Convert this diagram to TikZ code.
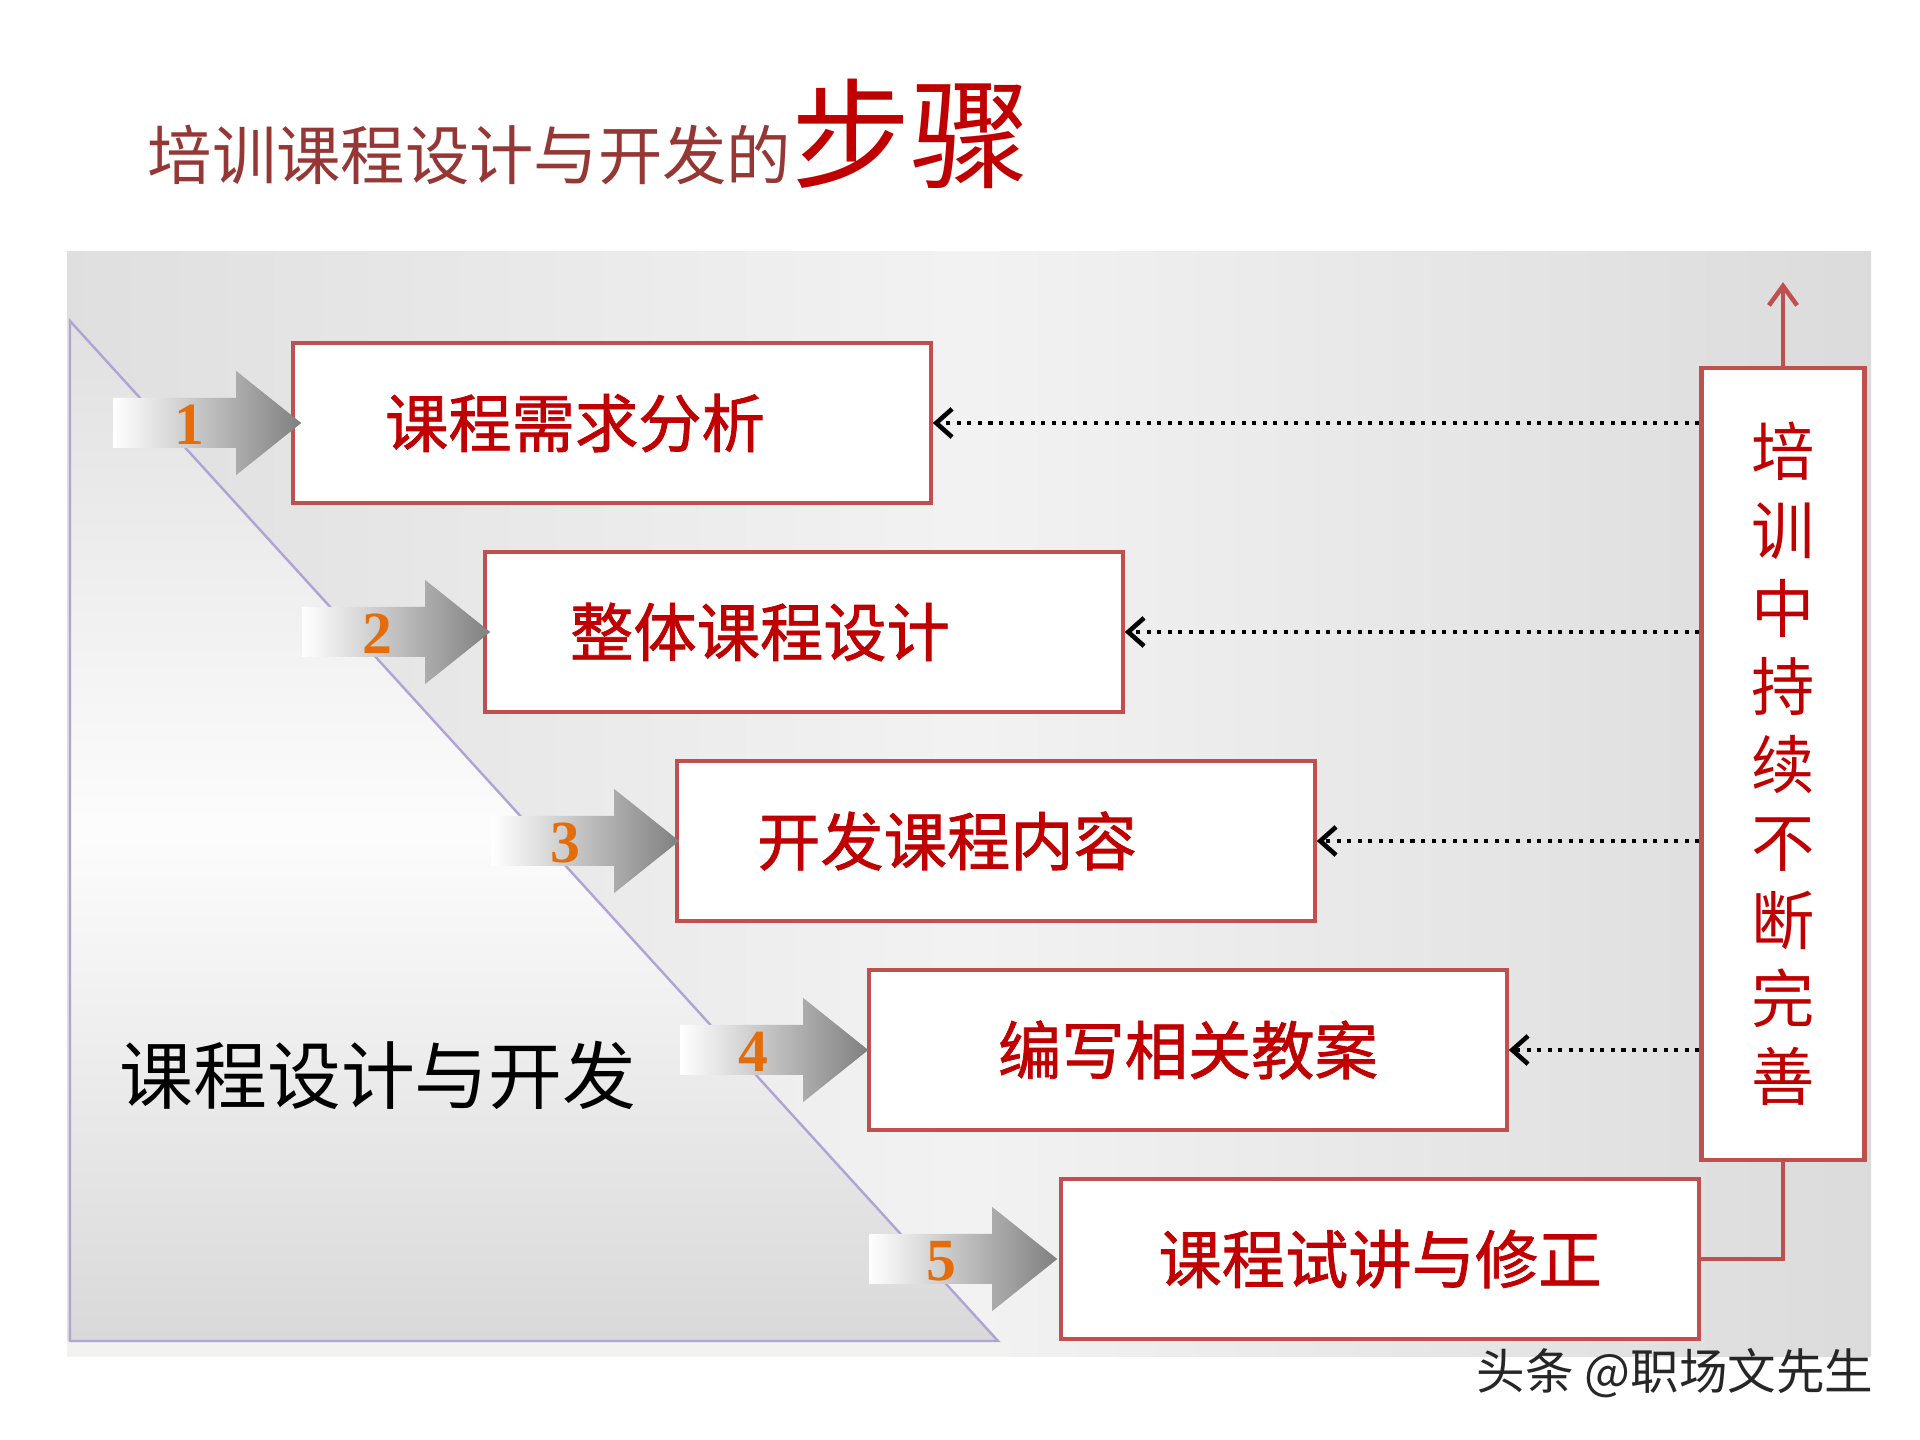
\documentclass[tikz,border=0pt]{standalone}
\usepackage{fontspec}
\setmainfont{Liberation Serif}
\newfontfamily\cjk{Noto Sans CJK SC}
\newfontfamily\cjkm[FakeBold=1.2]{Noto Sans CJK SC}
\usepackage{tikz}
\usetikzlibrary{calc, positioning, arrows.meta}

\definecolor{boxred}{HTML}{C0504D}
\definecolor{txtred}{HTML}{C00000}
\definecolor{titlered}{HTML}{953735}
\definecolor{numorange}{HTML}{E46C0A}
\definecolor{lav}{HTML}{B0A4D4}

\tikzset{
  stepbox/.style={draw=boxred, line width=1.2pt, fill=white, minimum width=6.37cm,
    minimum height=1.6cm, inner sep=0pt},
  steptext/.style={text=txtred, font=\cjkm\fontsize{18}{18}\selectfont},
  stepnum/.style={text=numorange, font=\bfseries\fontsize{17}{17}\selectfont},
  feedback/.style={line width=1.15pt, dash pattern=on 1.15pt off 1.85pt,
    -{Straight Barb[length=4.5pt, width=8pt, line width=1.3pt]}},
  redline/.style={boxred, line width=1.2pt},
}

\begin{document}
\begin{tikzpicture}[x=0.01cm, y=-0.01cm]
  \useasboundingbox (0,0) rectangle (1920,1440);

  % Title
  \node[anchor=base west, inner sep=0pt] (title) at (147,180)
    {\cjk\fontsize{18.3}{18}\selectfont\color{titlered}培训课程设计与开发的%
     \fontsize{34}{34}\selectfont\color{txtred}步骤};

  % Grey panel
  \shade[left color=gray!25, right color=gray!28, middle color=gray!10]
    (67,252) rectangle (1871,1357);

  % Left wedge
  \fill[yellow!4!gray!12] (67,1341) rectangle (1010,1357);
  \shade[top color=gray!24, bottom color=gray!30, middle color=gray!2]
    (70,321) -- (998,1341) -- (70,1341) -- cycle;
  \draw[lav, line width=0.7pt] (70,321) -- (998,1341) -- (70,1341) -- cycle;
  \node[font=\cjk\fontsize{21}{21}\selectfont] (sub) at (378,1075) {课程设计与开发};

  % Steps
  \foreach \i/\t/\dx in {1/课程需求分析/-37, 2/整体课程设计/-44, 3/开发课程内容/-49,
                         4/编写相关教案/0, 5/课程试讲与修正/0}
    {
      \pgfmathsetmacro\ax{-3*(\i-1)}
      \node[stepbox] (s\i) at ({612+192*(\i-1)}, {423+209*(\i-1)}) {};
      \node[steptext] at ($(s\i.center)+(\dx,0)$) {\t};
      \shade[left color=white, right color=gray]
        ($(s\i.west)+(-178+\ax,-25)$) -- ++(123,0) -- ++(0,-27)
        -- ($(s\i.west)+(10+\ax,0)$)
        -- ($(s\i.west)+(-55+\ax,52)$) -- ++(0,-27) -- ($(s\i.west)+(-178+\ax,25)$) -- cycle;
      \node[stepnum] (n\i) at ($(s\i.west)+(-102+1.3*\ax,2)$) {\i};
    }

  % Continuous improvement box
  \node[stepbox, minimum width=1.63cm, minimum height=7.91cm, text=txtred, align=center,
        font=\cjk\fontsize{18}{22.2}\selectfont] (keep) at (1783,764)
    {培\\训\\中\\持\\续\\不\\断\\完\\善};

  % Feedback lines
  \foreach \i in {1,...,4}
    \draw[feedback] (keep.west |- s\i.east) -- (s\i.east);

  \coordinate (top) at ($(keep.north)+(0,-84)$);
  \draw[redline, -{Straight Barb[length=5.5pt, width=8pt, line width=1.3pt]}] (keep.north) -- (top);
  \draw[redline] (s5.east) -| (keep.south);

  % Watermark
  \node[anchor=east, inner sep=0pt, text=black!85, font=\cjk\fontsize{13.8}{13.8}\selectfont] (mark)
    at (1874,1373) {头条 @职场文先生};
\end{tikzpicture}
\end{document}
